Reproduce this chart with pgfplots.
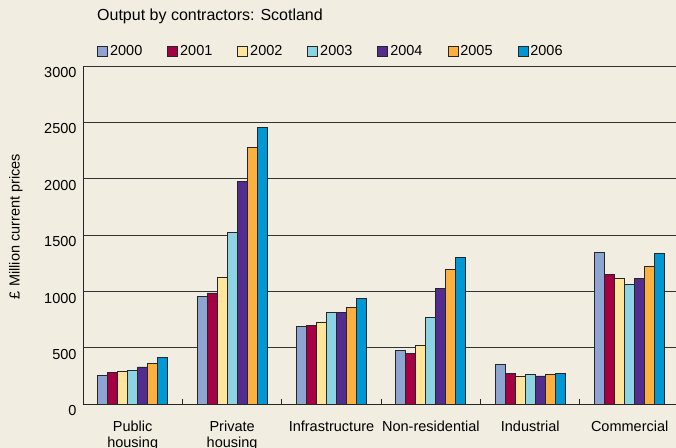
\documentclass[border=0pt]{standalone}
\usepackage{pgfplots}
\pgfplotsset{compat=1.18}
\usepackage{fontspec}
\setmainfont{Liberation Sans}
\definecolor{bg}{HTML}{F1EDE0}
\definecolor{cA}{HTML}{8EA4D2}
\definecolor{cB}{HTML}{A50044}
\definecolor{cC}{HTML}{FFE49C}
\definecolor{cD}{HTML}{8CD3E3}
\definecolor{cE}{HTML}{522D8F}
\definecolor{cF}{HTML}{FBB040}
\definecolor{cG}{HTML}{0098D4}
\begin{document}
\begin{tikzpicture}[font=\fontsize{14.5bp}{16.5bp}\selectfont]
\useasboundingbox (0,0) rectangle (676bp,448bp);
\clip (0,0) rectangle (676bp,448bp);
\fill[bg] (0,0) rectangle (676bp,448bp);
\begin{axis}[
  at={(83bp,43.7bp)}, anchor=south west,
  scale only axis, width=593bp, height=338.3bp,
  ymin=0, ymax=3000, ytick={0,500,...,3000},
  xmin=-0.5, xmax=5.466,
  axis lines=left, axis line style={-, black!85, line width=1bp},
  ymajorgrids, grid style={black!80, line width=0.9bp},
  major tick length=0pt,
  /pgf/number format/assume math mode=true,
  /pgf/number format/1000 sep={},
  yticklabel style={yshift=-6.5bp, xshift=-3bp},
  xtick={0,1,2,3,4,5},
  xticklabels={Public\\housing, Private\\housing, Infrastructure, Non-residential, Industrial, Commercial},
  xticklabel style={align=center, anchor=north, yshift=-13bp},
  extra x ticks={0.5,1.5,2.5,3.5,4.5},
  extra x tick labels={},
  extra x tick style={major tick length=5bp, tick align=inside, tick style={black!85, line width=1bp}},
  ybar=0pt, bar width=10bp,
  ylabel={£ Million current prices},
  ylabel style={at={(axis description cs:-0.113,0.5256)}, anchor=center},
  title={Output by contractors: Scotland},
  title style={at={(axis description cs:0.0236,1.118)}, anchor=base west, inner sep=0pt, font=\fontsize{16bp}{18bp}\selectfont},
  legend columns=7,
  legend style={at={(axis description cs:0.0238,1.043)}, anchor=west, draw=none, fill=none, inner sep=0pt,
    /tikz/every even column/.append style={column sep=23bp}},
  legend image code/.code={\draw[#1] (0bp,-5bp) rectangle (10bp,5bp);},
  every axis plot/.append style={draw=black!85, line width=0.8bp},
]
\addplot[fill=cA] coordinates {(0,253) (1,957) (2,694) (3,478) (4,357) (5,1344)};
\addplot[fill=cB] coordinates {(0,280) (1,987) (2,697) (3,452) (4,277) (5,1155)};
\addplot[fill=cC] coordinates {(0,292) (1,1128) (2,730) (3,523) (4,248) (5,1120)};
\addplot[fill=cD] coordinates {(0,301) (1,1521) (2,815) (3,771) (4,262) (5,1060)};
\addplot[fill=cE] coordinates {(0,331) (1,1980) (2,815) (3,1028) (4,251) (5,1117)};
\addplot[fill=cF] coordinates {(0,366) (1,2275) (2,862) (3,1199) (4,262) (5,1226)};
\addplot[fill=cG] coordinates {(0,416) (1,2456) (2,940) (3,1303) (4,275) (5,1339)};
\legend{2000,2001,2002,2003,2004,2005,2006}
\end{axis}
\end{tikzpicture}
\end{document}
